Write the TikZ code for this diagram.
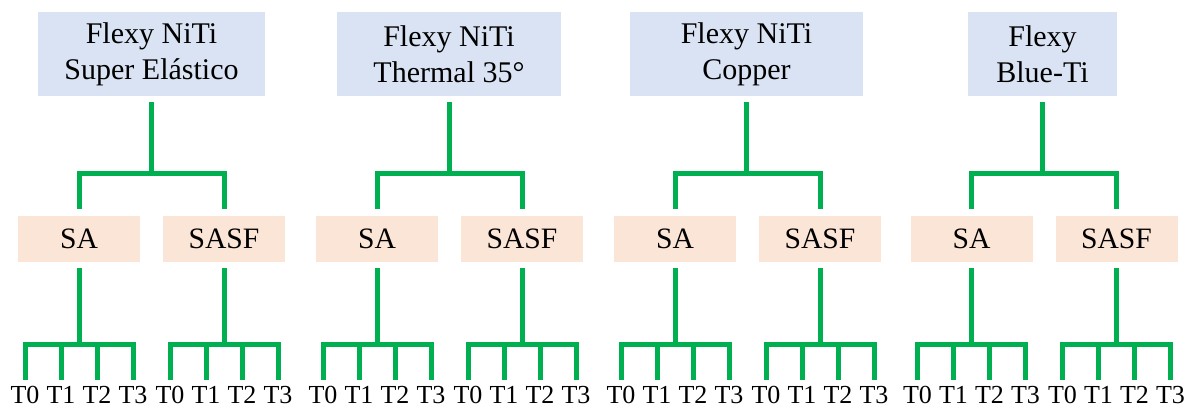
\documentclass[tikz,border=0pt]{standalone}
\usepackage{fontspec}
\setmainfont{Liberation Serif}
\definecolor{wireblue}{HTML}{DAE3F3}
\definecolor{grppeach}{HTML}{FBE5D6}
\definecolor{brgreen}{HTML}{00B050}

\begin{document}
\begin{tikzpicture}[
  x=0.5pt, y=-0.5pt,
  wire/.style={rectangle, fill=wireblue, inner sep=0pt, minimum height=42pt,
               align=center, font=\fontsize{15}{18.2}\selectfont},
  grp/.style={rectangle, fill=grppeach, inner sep=0pt, minimum width=61pt,
              minimum height=23pt, font=\fontsize{14.8}{18}\selectfont},
  tlab/.style={inner sep=0pt, anchor=base, font=\fontsize{13}{15}\selectfont},
  br/.style={draw=brgreen, line width=2.5pt}
]
\useasboundingbox (0,0) rectangle (1192,407);

% wires
\node[wire, minimum width=113.5pt] (w1) at (151.5,54) {Flexy NiTi\\Super Elástico};
\node[wire, minimum width=112pt]   (w2) at (449,54)   {Flexy NiTi\\Thermal 35°};
\node[wire, minimum width=116.5pt] (w3) at (746.5,54) {Flexy NiTi\\Copper};
\node[wire, minimum width=74.5pt]  (w4) at (1042.5,54) {Flexy\\Blue-Ti};

% groups and times
\foreach \i/\c in {1/151.5, 2/449.5, 3/747.5, 4/1044} {
  \node[grp] (sa\i)   at (\c-72.5,239) {SA};
  \node[grp] (sasf\i) at (\c+72.5,239) {SASF};
  \draw[br] ([yshift=-3pt]w\i.south) |- (\c,173) -| ([yshift=3.5pt]sa\i.north);
  \draw[br] ([yshift=-3pt]w\i.south) |- (\c,173) -| ([yshift=3.5pt]sasf\i.north);
  \foreach \b/\s in {sa/-72.5, sasf/72.5} {
    \foreach \k/\dx in {0/-54, 1/-18, 2/18, 3/54} {
      \pgfmathsetmacro\tx{\c+\s+\dx}
      \node[tlab] (\b\i-\k) at (\tx,403.5) {T\k};
      \draw[br] ([yshift=-3pt]\b\i.south) |- (\tx,344) -- ([yshift=3pt]\b\i-\k.north);
    }
  }
}
\end{tikzpicture}
\end{document}
